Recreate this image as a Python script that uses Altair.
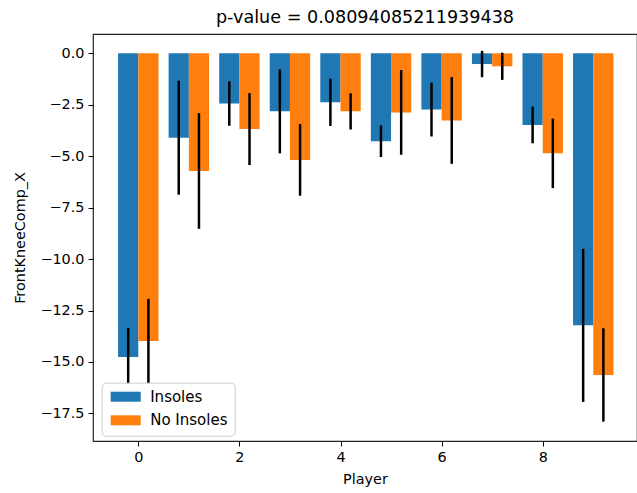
import altair as alt
import pandas as pd

# ---- data ----
players = list(range(10))
series = ["Insoles", "No Insoles"]
colors = ["#1f77b4", "#ff7f0e"]
insoles_mean = [-14.76, -4.10, -2.44, -2.82, -2.38, -4.27, -2.73, -0.52, -3.48, -13.22]
insoles_err = [1.41, 2.77, 1.08, 2.04, 1.15, 0.77, 1.31, 0.64, 0.89, 3.72]
no_insoles_mean = [-13.98, -5.72, -3.68, -5.18, -2.82, -2.87, -3.26, -0.63, -4.86, -15.63]
no_insoles_err = [2.05, 2.81, 1.75, 1.74, 0.88, 2.06, 2.11, 0.66, 1.69, 2.27]
x_ticks = [0, 2, 4, 6, 8]
y_ticks = [0.0, -2.5, -5.0, -7.5, -10.0, -12.5, -15.0, -17.5]
title_text = "p-value = 0.08094085211939438"

df = pd.DataFrame({
    "player": players + players,
    "group": [series[0]] * len(players) + [series[1]] * len(players),
    "idx": [0] * len(players) + [1] * len(players),
    "mean": insoles_mean + no_insoles_mean,
    "err": insoles_err + no_insoles_err,
})

FONT = "DejaVu Sans"
FS = 14.4

base = alt.Chart(df).transform_calculate(
    x0="datum.player - 0.4 + 0.4 * datum.idx",
    x1="datum.player + 0.4 * datum.idx",
    xc="datum.player - 0.2 + 0.4 * datum.idx",
    lo="datum.mean - datum.err",
    hi="datum.mean + datum.err",
)

xscale = alt.Scale(domain=[-0.896, 9.865], nice=False, zero=False)
yscale = alt.Scale(domain=[-18.84, 0.94], nice=False, zero=False)

bars = base.mark_bar(strokeWidth=0, opacity=1).encode(
    x=alt.X("x0:Q", scale=xscale,
            axis=alt.Axis(values=x_ticks, format="d", title="Player", titlePadding=9)),
    x2="x1:Q",
    y=alt.Y("mean:Q", scale=yscale,
            axis=alt.Axis(values=y_ticks, format=".1f", title="FrontKneeComp_X",
                          titlePadding=12)),
    y2=alt.datum(0),
    color=alt.Color(
        "group:N",
        scale=alt.Scale(domain=series, range=colors),
        legend=alt.Legend(
            title=None, orient="none", legendX=8.7, legendY=348.7,
            symbolType="M-1,-1 L5,-1 L5,1 L-1,1 Z", symbolSize=100,
            symbolStrokeWidth=0, symbolOpacity=1,
            labelFont=FONT, labelFontSize=15, labelColor="black",
            labelOffset=27, padding=6.5, rowPadding=7.6,
            strokeColor="#cccccc", fillColor="white",
            cornerRadius=4, zindex=1,
        ),
    ),
)

errs = base.mark_rule(color="black", strokeWidth=2.5).encode(
    x="xc:Q",
    y="lo:Q",
    y2="hi:Q",
)

chart = alt.layer(bars, errs).properties(
    width=544,
    height=407,
    autosize=alt.AutoSizeParams(type="none"),
    padding={"left": 93, "top": 34, "right": 0, "bottom": 52},
    title=alt.Title(title_text, font=FONT, fontSize=17.6, fontWeight="normal",
                    color="black", anchor="middle", offset=7),
).configure_axis(
    labelFont=FONT, labelFontSize=FS, labelColor="black",
    titleFont=FONT, titleFontSize=FS, titleFontWeight="normal", titleColor="black",
    tickColor="black", tickSize=5, tickWidth=1, labelPadding=4,
    domain=False, grid=False,
).configure_view(stroke="#222222", strokeWidth=1.2)

chart.save("out.html", embed_options={"renderer": "svg", "actions": False})
